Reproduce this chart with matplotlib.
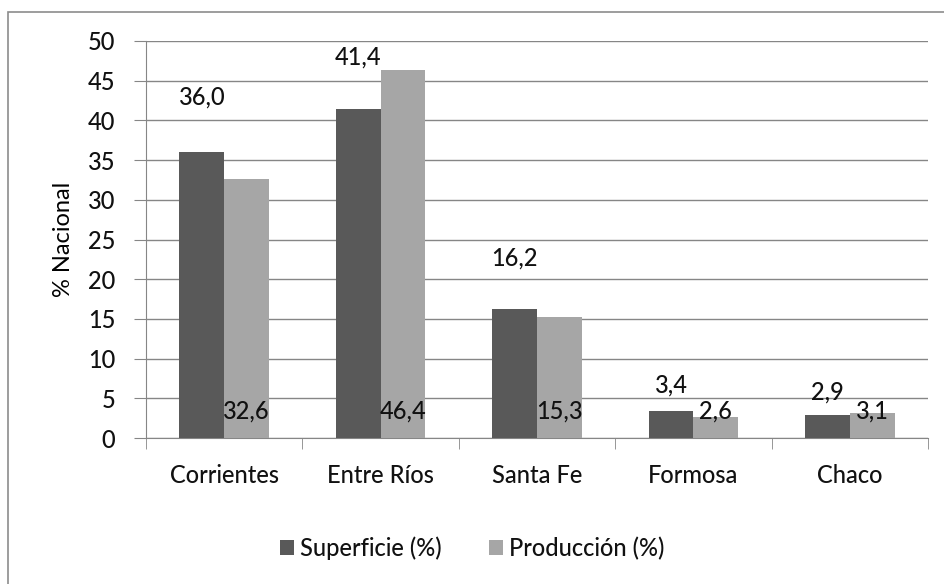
import numpy as np
import matplotlib
matplotlib.use("Agg")
import matplotlib.pyplot as plt
from matplotlib.patches import Rectangle

provincias = ["Corrientes", "Entre Ríos", "Santa Fe", "Formosa", "Chaco"]
superficie = [36.0, 41.4, 16.2, 3.4, 2.9]
produccion = [32.6, 46.4, 15.3, 2.6, 3.1]
y_ticks = [0, 5, 10, 15, 20, 25, 30, 35, 40, 45, 50]

# label placement (Excel put these oddly, copy that)
sup_lift = [6.9, 6.6, 6.5, 3.3, 2.9]
prod_label_y = 3.4

dark = "#595959"
light = "#a6a6a6"
grid_col = "#868686"
fs = 17
fw = 500

plt.rcParams["font.family"] = ["Lato", "DejaVu Sans"]
plt.rcParams["font.weight"] = fw
plt.rcParams["text.color"] = "#111111"

fig = plt.figure(figsize=(9.44, 5.84), dpi=100)
fig.patches.append(Rectangle((8 / 944, -0.05), 1.05, 1 - 12 / 584 + 0.05,
                             transform=fig.transFigure, fill=False,
                             edgecolor="#8c8c8c", linewidth=1.2))
ax = fig.add_axes([146 / 944, 1 - 438 / 584, (928 - 146) / 944, (438 - 41) / 584])

x = np.arange(len(provincias))
w = 0.286
b1 = ax.bar(x - w / 2, superficie, w, color=dark, label="Superficie (%)", zorder=3)
b2 = ax.bar(x + w / 2, produccion, w, color=light, label="Producción (%)", zorder=3)

for i, v in enumerate(superficie):
    ax.text(x[i] - w / 2, v + sup_lift[i], f"{v:.1f}".replace(".", ","),
            ha="center", va="center", fontsize=fs, zorder=4)
for i, v in enumerate(produccion):
    ax.text(x[i] + w / 2, prod_label_y, f"{v:.1f}".replace(".", ","),
            ha="center", va="center", fontsize=fs, zorder=4)

ax.set_xlim(-0.5, len(provincias) - 0.5)
ax.set_ylim(0, 50)
ax.set_yticks(y_ticks)
ax.set_yticklabels([str(t) for t in y_ticks], fontsize=fs, color="#111111")
ax.yaxis.grid(True, color=grid_col, linewidth=1, zorder=0)
ax.tick_params(axis="y", length=9, color=grid_col, pad=13)

ax.set_xticks(x)
ax.set_xticklabels(provincias, fontsize=fs, color="#111111")
ax.set_xticks(np.arange(len(provincias) + 1) - 0.5, minor=True)
ax.tick_params(axis="x", which="major", length=0, pad=19)
ax.tick_params(axis="x", which="minor", length=8, color=grid_col)

for s in ["top", "right"]:
    ax.spines[s].set_visible(False)
ax.spines["left"].set_color(grid_col)
ax.spines["bottom"].set_color(grid_col)

ax.set_ylabel("% Nacional", fontsize=fs, labelpad=10)

fig.legend(handles=[b1, b2], loc="center", bbox_to_anchor=(0.5, 1 - 548 / 584),
           ncol=2, frameon=False, fontsize=fs, handlelength=0.6, handleheight=0.6,
           handletextpad=0.25, columnspacing=2.0)

fig.savefig("out.png", dpi=100)
